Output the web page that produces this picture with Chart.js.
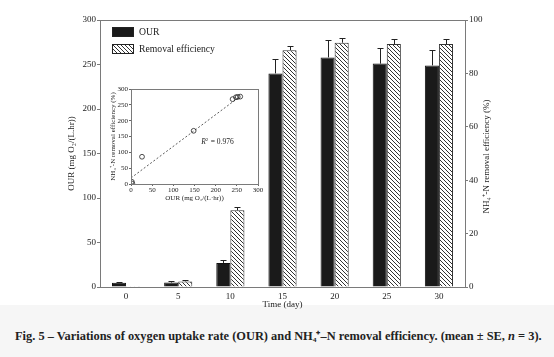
<!DOCTYPE html>
<html><head><meta charset="utf-8">
<script src="https://cdn.jsdelivr.net/npm/chart.js@4.4.0/dist/chart.umd.min.js"></script>
<style>
html,body{margin:0;padding:0;background:#fff;width:554px;height:357px;overflow:hidden;}
#wrap{position:relative;width:554px;height:357px;}
#main{position:absolute;left:0;top:0;}
#inset{position:absolute;left:104px;top:82px;}
#band{position:absolute;left:0;top:305px;width:554px;height:52px;background:#f6f6f6;}
#cap{position:absolute;left:15px;top:329px;font:bold 12px "Liberation Serif";color:#222;white-space:nowrap;line-height:15px;}
</style></head>
<body><div id="wrap"><div id="band"></div><canvas id="main" width="554" height="312"></canvas><canvas id="inset" width="160" height="122"></canvas><span id="cap">Fig. 5 – Variations of oxygen uptake rate (OUR) and NH₄⁺–N removal efficiency. (mean ± SE, <i>n</i> = 3).</span></div>
<script>
// ---- data ----
const days = ['0', '5', '10', '15', '20', '25', '30'];
const ourMean = [4.8, 5, 27, 240, 258, 251, 249];
const ourSE = [0.8, 1.5, 3, 16, 20, 18, 17];
const remMean = [0.3, 2.1, 28.7, 88.7, 91.5, 91, 91];
const remSE = [0, 0.7, 1.2, 1.7, 1.9, 1.9, 1.9];
const leftTicks = [0, 50, 100, 150, 200, 250, 300];
const rightTicks = [0, 20, 40, 60, 80, 100];
const insetOUR = [2, 3, 26, 148, 240, 248, 252, 258];
const insetRem = [7, 1, 86, 168, 268, 274, 275, 276];
const fitX = [0, 258];
const fitY = [19, 277];
const r2Label = '0.976';

// fit caption width
(function () {
  const cap = document.getElementById('cap');
  const target = 527;
  const w = cap.getBoundingClientRect().width;
  if (w > 0) cap.style.fontSize = (12 * target / w).toFixed(2) + 'px';
})();

const SERIF = '"Liberation Serif", "Times New Roman", serif';
const AXC = '#7a7a7a';
const TXT = '#222';

function makeHatch() {
  const c = document.createElement('canvas');
  const s = 4;
  c.width = s; c.height = s;
  const g = c.getContext('2d');
  g.fillStyle = '#fff'; g.fillRect(0, 0, s, s);
  g.fillStyle = '#333';
  for (let i = 0; i < s; i++) g.fillRect(i, i, 1, 1);
  return g.createPattern(c, 'repeat');
}
const hatch = makeHatch();

const framePlugin = {
  id: 'frame',
  afterDraw(chart, args, opts) {
    const a = chart.chartArea, ctx = chart.ctx;
    ctx.save();
    ctx.strokeStyle = opts.color || AXC;
    ctx.lineWidth = 1;
    ctx.strokeRect(Math.round(a.left) + 0.5, Math.round(a.top) + 0.5, Math.round(a.right - a.left), Math.round(a.bottom - a.top));
    ctx.restore();
  }
};

const errPlugin = {
  id: 'errbars',
  afterDatasetsDraw(chart) {
    const ctx = chart.ctx;
    ctx.save();
    ctx.strokeStyle = '#222';
    ctx.lineWidth = 1;
    chart.data.datasets.forEach((ds, di) => {
      if (!ds.err) return;
      const meta = chart.getDatasetMeta(di);
      const sc = chart.scales[ds.yAxisID];
      meta.data.forEach((bar, i) => {
        const e = ds.err[i];
        if (!e) return;
        const x = Math.round(bar.x) + 0.5;
        const yTop = Math.round(sc.getPixelForValue(ds.data[i] + e)) + 0.5;
        const yBase = sc.getPixelForValue(ds.data[i]);
        ctx.beginPath();
        ctx.moveTo(x, yBase); ctx.lineTo(x, yTop);
        ctx.moveTo(x - 3, yTop); ctx.lineTo(x + 3, yTop);
        ctx.stroke();
      });
    });
    ctx.restore();
  }
};

const legendPlugin = {
  id: 'customLegend',
  afterDraw(chart) {
    const ctx = chart.ctx;
    const a = chart.chartArea;
    const items = chart.data.datasets;
    ctx.save();
    ctx.font = '9.7px ' + SERIF;
    ctx.textBaseline = 'middle';
    items.forEach((ds, i) => {
      const x = a.left + 12, y = a.top + 7 + i * 17;
      ctx.fillStyle = ds.backgroundColor;
      ctx.fillRect(x, y, 22, 10);
      ctx.strokeStyle = '#222';
      ctx.strokeRect(x + 0.5, y + 0.5, 21, 9);
      ctx.fillStyle = TXT;
      ctx.fillText(ds.label, x + 27, y + 5.5);
    });
    ctx.restore();
  }
};

// right-axis title reading bottom-to-top
const rightTitlePlugin = {
  id: 'rightTitle',
  afterDraw(chart) {
    const ctx = chart.ctx, a = chart.chartArea;
    ctx.save();
    ctx.translate(487, (a.top + a.bottom) / 2 + 3);
    ctx.rotate(-Math.PI / 2);
    ctx.font = '9px ' + SERIF;
    ctx.fillStyle = TXT;
    ctx.textAlign = 'center';
    ctx.textBaseline = 'middle';
    ctx.fillText('NH₄⁺-N removal efficiency (%)', 0, 0);
    ctx.restore();
  }
};

const tickFont = { family: SERIF, size: 9 };

new Chart(document.getElementById('main').getContext('2d'), {
  type: 'bar',
  data: {
    labels: days,
    datasets: [
      { label: 'OUR', data: ourMean, err: ourSE, yAxisID: 'y', backgroundColor: '#1a1a1a', borderColor: '#111', borderWidth: 1 },
      { label: 'Removal efficiency', data: remMean, err: remSE, yAxisID: 'y1', backgroundColor: hatch, borderColor: '#333', borderWidth: 1 }
    ]
  },
  options: {
    responsive: false, animation: false, devicePixelRatio: 1,
    categoryPercentage: 0.54, barPercentage: 1,
    layout: { padding: { top: 20, left: 0, right: 0, bottom: 0 } },
    plugins: { legend: { display: false }, tooltip: { enabled: false } },
    scales: {
      x: {
        grid: { display: false, drawTicks: false },
        border: { color: AXC },
        ticks: { font: tickFont, color: TXT, padding: 4 },
        title: { display: true, text: 'Time (day)', font: tickFont, color: TXT, padding: { top: 0, bottom: 2 } },
        afterFit(s) { s.height = 25; }
      },
      y: {
        position: 'left', min: 0, max: 300,
        afterBuildTicks(s) { s.ticks = leftTicks.map(v => ({ value: v })); },
        ticks: { font: tickFont, color: TXT, padding: 1 },
        grid: { drawOnChartArea: false, tickLength: 3, color: AXC },
        border: { color: AXC },
        title: { display: true, text: 'OUR (mg O₂/(L.hr))', font: tickFont, color: TXT, padding: { top: 66 } },
        afterFit(s) { s.width = 100; }
      },
      y1: {
        position: 'right', min: 0, max: 100,
        afterBuildTicks(s) { s.ticks = rightTicks.map(v => ({ value: v })); },
        ticks: { font: tickFont, color: TXT, padding: 1 },
        grid: { drawOnChartArea: false, tickLength: 3, color: AXC },
        border: { color: AXC },
        title: { display: false },
        afterFit(s) { s.width = 89; }
      }
    }
  },
  plugins: [framePlugin, errPlugin, legendPlugin, rightTitlePlugin]
});

// ---- inset ----
const r2Plugin = {
  id: 'r2',
  afterDraw(chart) {
    const ctx = chart.ctx;
    const x = chart.scales.x.getPixelForValue(166);
    const y = chart.scales.y.getPixelForValue(132);
    ctx.save();
    ctx.fillStyle = TXT;
    ctx.textBaseline = 'middle';
    ctx.font = 'italic 7.5px ' + SERIF;
    ctx.fillText('R', x, y);
    let w = ctx.measureText('R').width;
    ctx.font = '5px ' + SERIF;
    ctx.fillText('2', x + w, y - 3);
    ctx.font = '7.5px ' + SERIF;
    ctx.fillText(' = ' + r2Label, x + w + 3, y);
    ctx.restore();
  }
};
const inFont = { family: SERIF, size: 7 };
new Chart(document.getElementById('inset').getContext('2d'), {
  type: 'scatter',
  data: {
    datasets: [
      {
        data: insetOUR.map((v, i) => ({ x: v, y: insetRem[i] })),
        pointStyle: 'circle', pointRadius: 2.4, pointBorderWidth: 0.8,
        pointBorderColor: '#222', pointBackgroundColor: 'rgba(255,255,255,0)', showLine: false
      },
      {
        type: 'line',
        data: fitX.map((v, i) => ({ x: v, y: fitY[i] })),
        borderColor: '#333', borderWidth: 0.8, borderDash: [2, 2], pointRadius: 0, showLine: true, fill: false
      }
    ]
  },
  options: {
    responsive: false, animation: false, devicePixelRatio: 1,
    layout: { padding: { top: 7, right: 6, left: 0, bottom: 0 } },
    plugins: { legend: { display: false }, tooltip: { enabled: false } },
    scales: {
      x: {
        type: 'linear', min: 0, max: 300,
        ticks: { stepSize: 50, font: inFont, color: TXT, padding: 0, maxRotation: 0 },
        grid: { drawOnChartArea: false, tickLength: 2, color: '#666' },
        border: { color: '#666' },
        title: { display: true, text: 'OUR (mg O₂/(L·hr))', font: inFont, color: TXT, padding: { top: 0, bottom: 2 } },
        afterFit(s) { s.height = 20; }
      },
      y: {
        type: 'linear', min: 0, max: 300,
        ticks: { stepSize: 50, font: inFont, color: TXT, padding: 1 },
        grid: { drawOnChartArea: false, tickLength: 2, color: '#666' },
        border: { color: '#666' },
        title: { display: true, text: 'NH₄⁺-N removal efficiency (%)', font: inFont, color: TXT, padding: { top: 5 } },
        afterFit(s) { s.width = 27; }
      }
    }
  },
  plugins: [framePlugin, r2Plugin]
});
</script>
</body></html>
